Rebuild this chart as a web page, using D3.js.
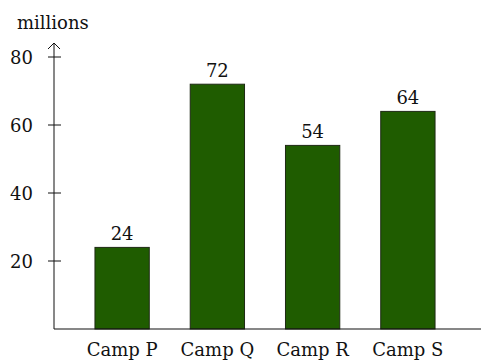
<!DOCTYPE html>
<html><head><meta charset="utf-8">
<script src="https://cdn.jsdelivr.net/npm/d3@7"></script>
<style>body{margin:0;background:#fff}svg{display:block}text{font-family:"DejaVu Serif",serif;fill:#111}</style>
</head><body><svg id="c" width="481" height="360"></svg>
<script>
const categories = ["Camp P","Camp Q","Camp R","Camp S"];
const values = [24, 72, 54, 64];
const yTicks = [20, 40, 60, 80];
const yLabel = "millions";

const svg = d3.select("#c");
const x0 = 54, yBase = 329, fs = 18;
const x = d3.scaleBand().domain(categories).range([x0, 476]).paddingInner(0.43).paddingOuter(0.43);
const y = d3.scaleLinear().domain([0, 80]).range([yBase, 57]);

// bars
svg.selectAll("rect.bar").data(values).join("rect")
  .attr("x", (d,i)=>x(categories[i])).attr("width", x.bandwidth())
  .attr("y", d=>y(d)).attr("height", d=>yBase - y(d))
  .attr("fill", "#1f5c00").attr("stroke", "#1e2a14").attr("stroke-width", 1);

svg.selectAll("text.val").data(values).join("text")
  .attr("x", (d,i)=>x(categories[i]) + x.bandwidth()/2).attr("y", d=>y(d) - 7)
  .attr("text-anchor","middle").attr("font-size", fs).text(d=>d);

// x axis line
svg.append("line").attr("x1", x0).attr("x2", 481).attr("y1", yBase).attr("y2", yBase)
  .attr("stroke","#111").attr("stroke-width",1.2);
svg.selectAll("text.cat").data(categories).join("text")
  .attr("x", d=>x(d)+x.bandwidth()/2).attr("y", 356)
  .attr("text-anchor","middle").attr("font-size", fs).text(d=>d);

// y axis
svg.append("line").attr("x1", x0).attr("x2", x0).attr("y1", yBase).attr("y2", 43)
  .attr("stroke","#111").attr("stroke-width",1);
svg.append("path").attr("d", `M${x0-6},${49}L${x0},${43}L${x0+6},${49}`)
  .attr("fill","none").attr("stroke","#111").attr("stroke-width",1);
svg.selectAll("line.tick").data(yTicks).join("line")
  .attr("x1", x0-6).attr("x2", x0+7).attr("y1", d=>y(d)).attr("y2", d=>y(d))
  .attr("stroke","#111").attr("stroke-width",1);
svg.selectAll("text.yt").data(yTicks).join("text")
  .attr("x", 33).attr("y", d=>y(d)+6.5).attr("text-anchor","end").attr("font-size",fs).text(d=>d);
svg.append("text").attr("x", 17).attr("y", 29).attr("font-size",fs).text(yLabel);
</script></body></html>
